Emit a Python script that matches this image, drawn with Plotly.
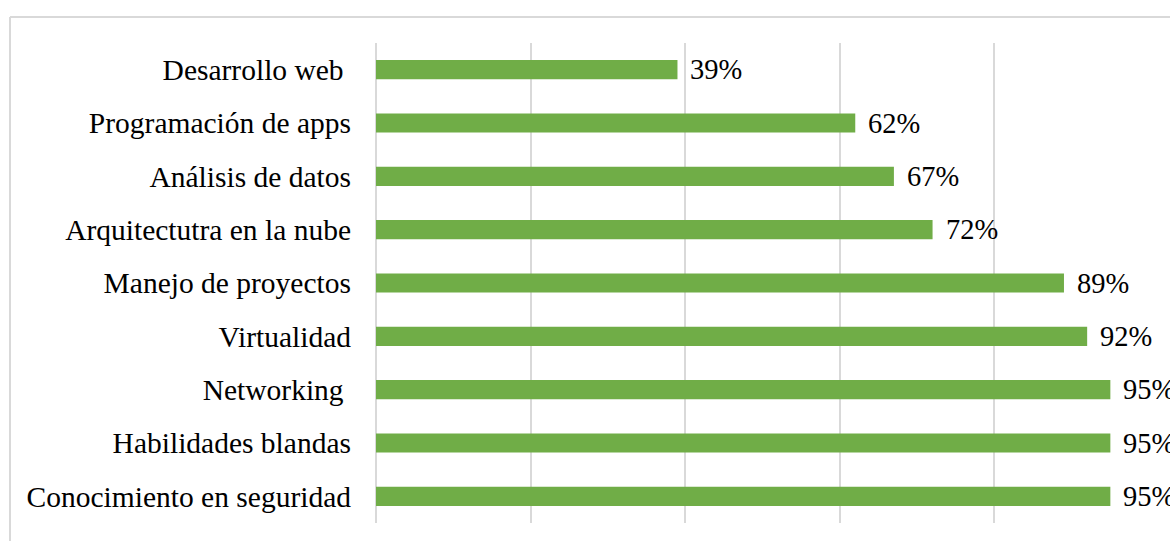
import plotly.graph_objects as go

categories = [
    "Desarrollo web ",
    "Programación de apps",
    "Análisis de datos",
    "Arquitectutra en la nube",
    "Manejo de proyectos",
    "Virtualidad",
    "Networking ",
    "Habilidades blandas",
    "Conocimiento en seguridad",
]
values = [39, 62, 67, 72, 89, 92, 95, 95, 95]
value_labels = [f"{v}%" for v in values]
tick_text = [c.replace(" ", "\u00a0") if c.endswith(" ") else c for c in categories]

GREEN = "#70AD47"
GRID = "#D9D9D9"
FONT = "Liberation Serif, Times New Roman, serif"

fig = go.Figure(
    go.Bar(
        y=categories,
        x=values,
        orientation="h",
        marker=dict(color=GREEN, line=dict(width=0)),
        width=0.36,
        hoverinfo="skip",
    )
)

for c, v, t in zip(categories, values, value_labels):
    fig.add_annotation(
        x=v, y=c, text=t, showarrow=False, xanchor="left", yanchor="middle",
        xshift=11, font=dict(family=FONT, size=28.5, color="#000000"),
    )

W, H = 1170, 541
ml, mr, mt, mb = 376, 21, 43, 18
pw, ph = W - ml - mr, H - mt - mb
bx = (10 - ml) / pw
by = (H - mb - 17) / ph
fig.add_shape(type="line", xref="paper", yref="paper", x0=bx, x1=1.2, y0=by, y1=by,
              line=dict(color=GRID, width=2))
fig.add_shape(type="line", xref="paper", yref="paper", x0=bx, x1=bx, y0=by, y1=-0.2,
              line=dict(color=GRID, width=2))

fig.update_layout(
    width=W, height=H,
    margin=dict(l=ml, r=mr, t=mt, b=mb),
    paper_bgcolor="white", plot_bgcolor="white",
    showlegend=False,
    font=dict(family=FONT, size=28.5, color="#000000"),
    xaxis=dict(range=[0, 100], tickvals=[0, 20, 40, 60, 80, 100], showticklabels=False,
               showgrid=True, gridcolor=GRID, gridwidth=1.5, zeroline=True,
               zerolinecolor=GRID, zerolinewidth=1.5, showline=False, fixedrange=True),
    yaxis=dict(autorange="reversed", tickvals=categories, ticktext=tick_text,
               showgrid=False, zeroline=False, showline=False, ticks="",
               ticklabelstandoff=24, fixedrange=True,
               tickfont=dict(family=FONT, size=29.5, color="#000000")),
    bargap=0.64,
)

fig.write_html(
    "out.html",
    config={"displayModeBar": False},
    post_script="document.body.style.margin='0';document.body.style.overflow='hidden';",
)
